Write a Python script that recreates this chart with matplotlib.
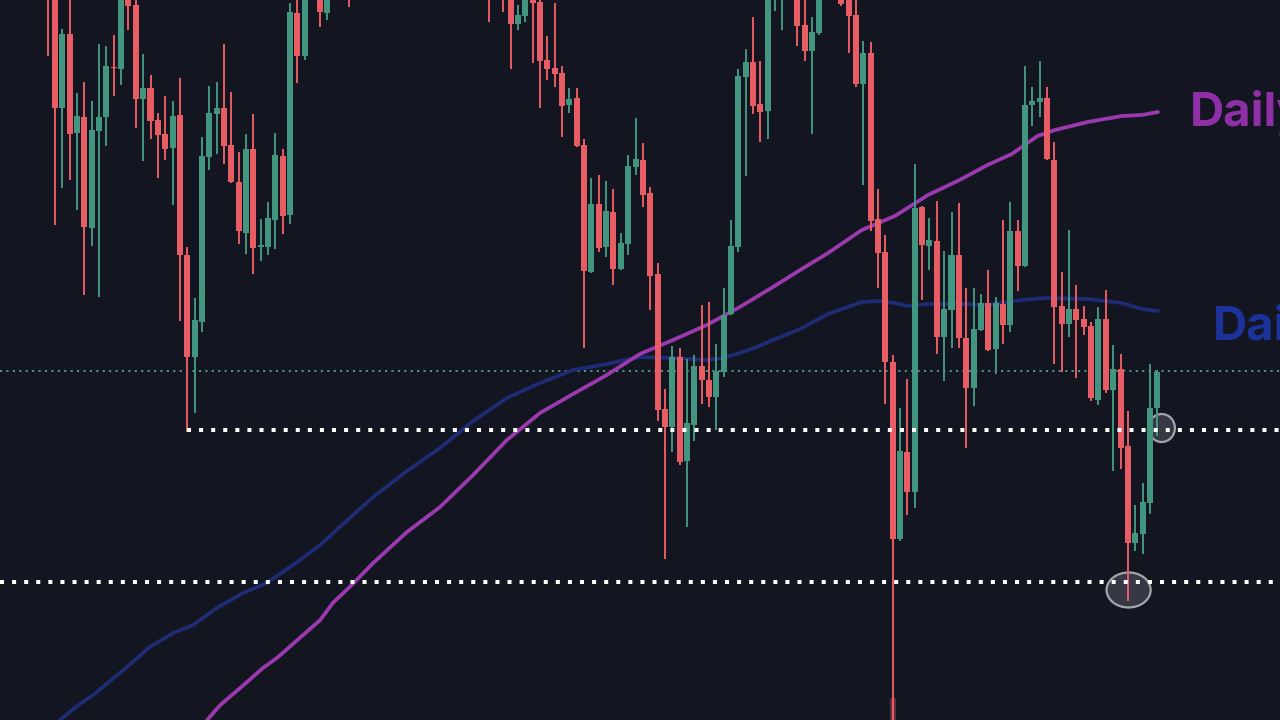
import matplotlib.pyplot as plt
from matplotlib.patches import Ellipse
import numpy as np

# candle data (price units), one entry per daily candle, left to right
opens = [780, 740, 612, 686, 587, 603, 492, 589, 603, 653,
         651, 730, 715, 621, 632, 600, 586, 572, 605, 465,
         363, 398, 563, 606, 612, 575, 538, 487, 571, 473,
         473, 500, 564, 505, 707, 664, 780, 740, 707, 740,
         770, 750, 730, 765, 782, 775, 804, 822, 808, 818,
         840, 832, 818, 830, 846, 826, 798, 808, 776, 782,
         750, 735, 755, 735, 696, 704, 730, 718, 660, 652,
         647, 615, 622, 575, 448, 516, 473, 508, 451, 476,
         553, 560, 527, 446, 311, 293, 363, 259, 295, 354,
         340, 323, 348, 406, 473, 643, 658, 616, 609, 725,
         725, 760, 725, 695, 669, 687, 735, 765, 740, 730,
         705, 636, 667, 501, 468, 358, 181, 268, 228, 513,
         474, 479, 383, 410, 465, 382, 332, 390, 417, 371,
         416, 395, 489, 454, 615, 618, 622, 560, 414, 396,
         411, 401, 394, 320, 401, 330, 351, 274, 177, 186,
         217, 312]
highs = [800, 750, 691, 730, 627, 638, 619, 676, 674, 685,
         745, 740, 730, 666, 645, 607, 624, 619, 642, 473,
         422, 583, 634, 638, 676, 628, 568, 586, 606, 501,
         518, 587, 571, 717, 730, 750, 800, 750, 745, 780,
         790, 760, 772, 790, 805, 812, 830, 835, 826, 848,
         856, 845, 838, 852, 860, 834, 815, 820, 790, 795,
         770, 775, 770, 745, 715, 740, 740, 730, 684, 717,
         654, 632, 632, 581, 542, 545, 539, 531, 487, 565,
         602, 577, 533, 457, 331, 374, 372, 361, 365, 415,
         418, 376, 432, 500, 651, 671, 703, 659, 745, 770,
         765, 775, 735, 730, 703, 745, 780, 775, 750, 740,
         725, 679, 678, 531, 485, 365, 312, 341, 556, 514,
         502, 519, 469, 508, 517, 432, 432, 426, 450, 423,
         500, 518, 500, 654, 633, 659, 633, 578, 448, 490,
         435, 414, 398, 413, 430, 375, 366, 309, 215, 237,
         356, 350]
lows = [664, 495, 532, 540, 510, 425, 474, 423, 574, 624,
        635, 690, 592, 559, 581, 542, 560, 515, 399, 288,
        307, 388, 550, 566, 556, 537, 476, 466, 446, 459,
        465, 471, 486, 496, 637, 660, 725, 693, 700, 728,
        725, 713, 722, 750, 768, 770, 795, 800, 790, 812,
        826, 812, 805, 824, 820, 790, 782, 770, 752, 748,
        698, 725, 708, 651, 690, 698, 657, 612, 640, 633,
        583, 607, 573, 372, 447, 468, 463, 435, 450, 465,
        545, 513, 410, 299, 161, 268, 255, 193, 279, 316,
        313, 290, 343, 405, 468, 544, 606, 578, 581, 709,
        690, 723, 674, 659, 586, 685, 725, 723, 714, 667,
        633, 535, 489, 432, 316, -20, 179, 205, 212, 420,
        450, 366, 339, 372, 372, 272, 314, 389, 369, 346,
        376, 388, 429, 453, 594, 603, 560, 356, 348, 383,
        342, 385, 319, 315, 327, 249, 251, 119, 169, 166,
        206, 284]
closes = [725, 612, 686, 586, 604, 493, 590, 603, 654, 652,
          735, 714, 621, 632, 599, 585, 571, 604, 465, 363,
          400, 564, 607, 612, 574, 538, 489, 571, 472, 475,
          502, 565, 504, 708, 664, 740, 740, 708, 735, 770,
          740, 730, 765, 782, 775, 804, 822, 808, 818, 840,
          832, 818, 830, 846, 826, 798, 808, 776, 782, 756,
          725, 760, 725, 696, 705, 730, 717, 659, 651, 646,
          614, 621, 574, 449, 516, 472, 509, 451, 477, 554,
          561, 525, 444, 310, 293, 363, 258, 297, 354, 340,
          323, 349, 405, 474, 644, 658, 614, 608, 735, 760,
          755, 730, 694, 669, 688, 735, 765, 732, 716, 704,
          636, 667, 499, 467, 358, 181, 269, 228, 512, 475,
          480, 383, 411, 465, 382, 332, 391, 417, 370, 417,
          395, 489, 454, 615, 619, 622, 561, 413, 396, 411,
          400, 393, 322, 401, 330, 351, 272, 177, 187, 218,
          312, 348]

# daily moving averages, read at candle positions
ma_slow_x = [21.7, 23.5, 26.2, 29.3, 31.2, 34.3, 37.1, 38.8, 41.1, 44.3, 48.9,
             53.4, 57.9, 62.5, 67.0, 71.5, 76.1, 80.6, 85.1, 89.7, 94.2, 98.7,
             102.4, 106.2, 110.8, 115.3, 119.8, 124.1, 127.9, 131.2, 134.7,
             137.1, 141.5, 146.2, 148.9, 151.1]
ma_slow = [0, 15, 32, 52, 62, 82, 100, 117, 133, 157, 188,
           213, 245, 280, 307, 326, 345, 366, 380, 395, 413, 433,
           450, 467, 490, 504, 525, 540, 555, 566, 584,
           590, 598, 604, 605, 608]
ma_fast_x = [1.7, 4.0, 6.2, 10.8, 13.9, 17.1, 19.8, 23.0, 26.6, 29.8, 33.4,
             37.1, 41.1, 44.3, 48.9, 53.4, 57.9, 62.5, 67.0, 71.5, 76.1, 80.6,
             85.1, 89.7, 91.9, 94.2, 96.5, 98.7, 102.4, 106.2, 110.8, 113.0,
             115.3, 117.1, 119.8, 124.1, 127.9, 132.6, 135.7, 141.5, 146.2,
             148.9, 151.1]
ma_fast = [0, 14, 25, 53, 73, 87, 95, 112, 127, 137, 155,
           175, 202, 223, 249, 272, 299, 322, 337, 350, 356, 363,
           362, 360, 362, 367, 373, 380, 391, 406, 418, 419,
           417, 414, 416, 416, 415, 420, 422, 421, 417,
           411, 409]

level_mid = 349
level_support = 290
level_low = 138
support_start = 19
marker_stub = (115, 0, 22)

bg = '#131620'
up_col = '#42967f'
down_col = '#e85d63'
purple = '#9b3aaf'
navy = '#1d2c74'

fig = plt.figure(figsize=(12.8, 7.2), dpi=100)
fig.patch.set_facecolor(bg)
ax = fig.add_axes([0, 0, 1, 1])
ax.set_facecolor(bg)
ax.axis('off')
x_left, x_right = -6.48, 167.7
ax.set_xlim(x_left, x_right)
ax.set_ylim(0, 720)

o = np.array(opens, float)
h = np.array(highs, float)
l = np.array(lows, float)
c = np.array(closes, float)
idx = np.arange(len(o))
up = c >= o
cols = np.where(up, up_col, down_col)

ax.plot(ma_fast_x, ma_fast, color=navy, lw=2.7, zorder=2, solid_capstyle='round')
ax.plot(ma_slow_x, ma_slow, color=purple, lw=2.7, zorder=2, solid_capstyle='round')

ax.hlines(level_mid, x_left, x_right, colors='#4a9888', lw=1.4,
          linestyles=(0, (1.1, 2.2)), zorder=1)

# circled zones
for cx, cy, w, hh in [(151.6, 292, 3.6, 28), (147.1, 130, 6.0, 35)]:
    ax.add_patch(Ellipse((cx, cy), w, hh, facecolor='#3b3e4a', alpha=0.9,
                         edgecolor='none', zorder=2.5))
    ax.add_patch(Ellipse((cx, cy), w, hh, facecolor='none',
                         edgecolor='#a3a5ab', lw=1.6, zorder=2.6))

ax.vlines(idx, l, h, colors=cols, lw=1.4, zorder=3)
bottoms = np.minimum(o, c)
heights = np.maximum(np.abs(c - o), 1.5)
ax.bar(idx, heights, bottom=bottoms, width=0.82, color=cols, linewidth=0, zorder=4)
ax.bar(marker_stub[0], marker_stub[2] - marker_stub[1], bottom=marker_stub[1],
       width=0.82, color=down_col, alpha=0.35, linewidth=0, zorder=4)

dot_style = (0, (1, 2))
ax.hlines(level_support, support_start, x_right, colors='white', lw=2.9,
          linestyles=dot_style, zorder=5)
ax.hlines(level_low, x_left, x_right, colors='white', lw=2.9,
          linestyles=dot_style, zorder=5)

ax.text(155.4, 594, 'Daily', color='#8f2fa8', fontsize=34, fontweight='bold',
        family=['Inter', 'DejaVu Sans'], va='baseline', ha='left', zorder=7)
ax.text(158.6, 380, 'Daily', color='#1b3299', fontsize=34, fontweight='bold',
        family=['Inter', 'DejaVu Sans'], va='baseline', ha='left', zorder=7)

fig.savefig('out.png', dpi=100, facecolor=bg)
